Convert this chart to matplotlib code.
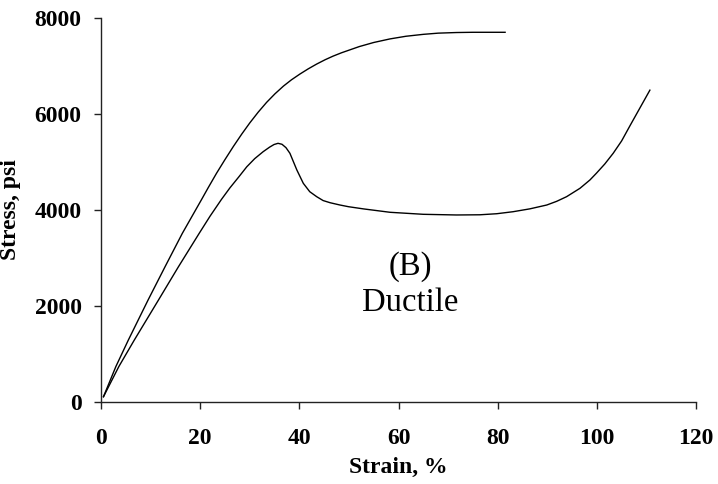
import numpy as np
import matplotlib.pyplot as plt

# upper curve (stiffer material)
upper_strain = [0.5, 3.0, 5.5, 9.5, 12.9, 16.4, 20.3, 21.6, 23.3, 25.0, 26.7, 28.4,
                30.0, 31.7, 33.4, 35.1, 36.8, 38.4, 40.1, 41.8, 43.5, 45.2, 46.8,
                48.5, 52.1, 55.0, 58.3, 61.5, 65.0, 68.0, 71.7, 75.0, 81.5]
upper_stress = [100, 730, 1280, 2120, 2810, 3510, 4220, 4460, 4765, 5050, 5325, 5585,
                5815, 6040, 6245, 6425, 6585, 6715, 6835, 6945, 7045, 7135, 7210,
                7280, 7410, 7495, 7570, 7625, 7665, 7690, 7703, 7708, 7708]

# lower curve (ductile, yield drop then hardening)
lower_strain = [0.5, 3.6, 6.7, 11.6, 15.6, 19.8, 22.0, 24.3, 26.0, 27.8, 29.4, 31.0,
                32.7, 34.0, 34.9, 35.7, 36.5, 37.3, 38.1, 39.5, 40.8, 42.1, 43.5,
                44.8, 46.2, 48.2, 49.9, 53.0, 58.3, 65.0, 71.7, 76.4, 79.8, 83.1,
                86.5, 89.9, 91.9, 93.9, 96.6, 98.6, 99.9, 101.6, 103.3, 105.0, 106.7,
                108.7, 110.7]
lower_stress = [100, 730, 1280, 2120, 2810, 3510, 3870, 4220, 4460, 4690, 4900, 5070,
                5215, 5310, 5365, 5390, 5370, 5300, 5182, 4833, 4555, 4380, 4276,
                4195, 4150, 4102, 4067, 4020, 3950, 3908, 3894, 3898, 3920, 3962,
                4022, 4102, 4179, 4276, 4451, 4624, 4764, 4958, 5182, 5440, 5760,
                6130, 6500]

x_ticks = [0, 20, 40, 60, 80, 100, 120]
y_ticks = [0, 2000, 4000, 6000, 8000]

plt.rcParams['font.family'] = ['Liberation Serif', 'DejaVu Serif']

fig = plt.figure(figsize=(7.18, 4.84), dpi=100)
ax = fig.add_axes([101 / 718, 1 - 401.5 / 484, 595 / 718, 383.2 / 484])

ax.plot(upper_strain, upper_stress, color='black', lw=1.0, solid_joinstyle='round')
ax.plot(lower_strain, lower_stress, color='black', lw=1.0, solid_joinstyle='round')

ax.set_xlim(0, 120)
ax.set_ylim(0, 8000)
ax.set_xticks(x_ticks)
ax.set_yticks(y_ticks)

for side in ['top', 'right']:
    ax.spines[side].set_visible(False)
for side in ['left', 'bottom']:
    ax.spines[side].set_linewidth(1.0)
    ax.spines[side].set_color('#222222')

ax.tick_params(axis='x', direction='out', length=5, width=1.0, pad=14,
               labelsize=17, colors='#222222', labelcolor='black')
ax.tick_params(axis='y', direction='out', length=5, width=1.0, pad=9,
               labelsize=17, colors='#222222', labelcolor='black')
for lbl in ax.get_xticklabels() + ax.get_yticklabels():
    lbl.set_fontweight('bold')

ax.set_xlabel('Strain, %', fontsize=17, fontweight='bold', labelpad=6)
ax.set_ylabel('Stress, psi', fontsize=17, fontweight='bold', labelpad=10)

ax.text(62.3, 2440, '(B)\nDuctile', fontsize=23.5, ha='center', va='center',
        linespacing=1.2)

fig.savefig('out.png', dpi=100)
